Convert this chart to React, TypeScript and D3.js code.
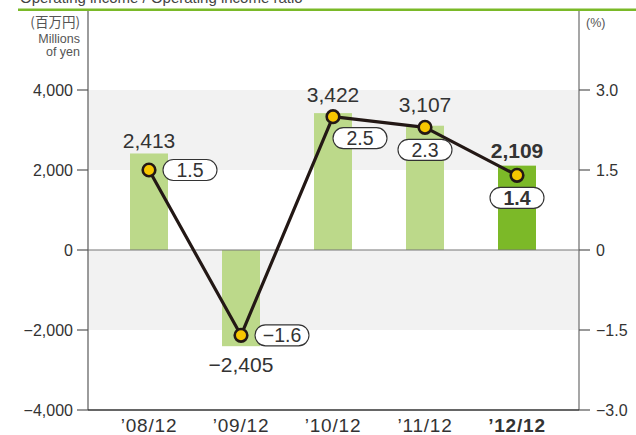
import React from "react";
import * as d3 from "d3";

const categories = ["’08/12", "’09/12", "’10/12", "’11/12", "’12/12"];
const incomeValues = [2413, -2405, 3422, 3107, 2109];
const ratioValues = [1.5, -1.6, 2.5, 2.3, 1.4];
const incomeLabels = ["2,413", "−2,405", "3,422", "3,107", "2,109"];
const ratioLabels = ["1.5", "−1.6", "2.5", "2.3", "1.4"];
const leftTicks = [-4000, -2000, 0, 2000, 4000];
const leftTickLabels = ["−4,000", "−2,000", "0", "2,000", "4,000"];
const rightTicks = [-3, -1.5, 0, 1.5, 3];
const rightTickLabels = ["−3.0", "−1.5", "0", "1.5", "3.0"];
// label placement: "right" | "below-right" | "below"
const ratioLabelPos = ["right", "right", "below-right", "below", "below"];

const W = 636;
const H = 435;
const left = 88;
const right = 579;
const top = 90;
const bottom = 410;
const font = "'Liberation Sans', Arial, Helvetica, sans-serif";

export default function App() {
  const x = d3.scaleBand<string>().domain(categories).range([103, 563]).padding(0);
  const y = d3.scaleLinear().domain([-4000, 4000]).range([bottom, top]);
  const yr = d3.scaleLinear().domain([-3, 3]).range([bottom, top]);
  const barW = 38;
  const cx = (c: string) => (x(c) as number) + x.bandwidth() / 2;
  const line = d3
    .line<number>()
    .x((_, i) => cx(categories[i]))
    .y((d) => yr(d));

  return (
    <svg width={W} height={H} style={{ position: "absolute", left: 0, top: 0 }}>
      <rect x={0} y={0} width={W} height={H} fill="#fff" />
      {/* title (cut off at the top, as in the reference) */}
      <text x={20} y={3} fontFamily={font} fontSize={15} fill="#444">
        Operating income / Operating income ratio
      </text>
      <line x1={18} x2={W} y1={9.7} y2={9.7} stroke="#7ab928" strokeWidth={2.6} />

      {/* shaded bands */}
      <rect x={left} y={y(4000)} width={right - left} height={y(2000) - y(4000)} fill="#f2f2f2" />
      <rect x={left} y={y(0)} width={right - left} height={y(-2000) - y(0)} fill="#f2f2f2" />

      {/* unit labels */}
      <g fontFamily={font} fontSize={12.5} fill="#555" textAnchor="end">
        <text x={80} y={27} fontFamily="'Noto Sans CJK JP', sans-serif" fontSize={13.5}>
          (百万円)
        </text>
        <text x={80} y={43}>Millions</text>
        <text x={80} y={56}>of yen</text>
      </g>
      <text x={586} y={27} fontFamily={font} fontSize={12.5} fill="#555">
        (%)
      </text>

      {/* bars */}
      {categories.map((c, i) => {
        const v = incomeValues[i];
        return (
          <rect
            key={c}
            x={cx(c) - barW / 2}
            y={Math.min(y(v), y(0))}
            width={barW}
            height={Math.abs(y(v) - y(0))}
            fill={i === categories.length - 1 ? "#7cb928" : "#bcd98a"}
          />
        );
      })}

      {/* zero line */}
      <line x1={left} x2={right} y1={y(0)} y2={y(0)} stroke="#777" strokeWidth={1.2} />

      {/* axes */}
      <line x1={left} x2={left} y1={11} y2={bottom} stroke="#666" strokeWidth={1.3} />
      <line x1={right} x2={right} y1={11} y2={bottom} stroke="#777" strokeWidth={1.3} />
      <line x1={left} x2={right} y1={bottom} y2={bottom} stroke="#333" strokeWidth={1.3} />

      {/* left ticks */}
      <g fontFamily={font} fontSize={16} fill="#333">
        {leftTicks.map((t, i) => (
          <g key={t}>
            <line x1={77} x2={left} y1={y(t)} y2={y(t)} stroke="#555" strokeWidth={1.2} />
            <text x={73} y={y(t) + 6} textAnchor="end">
              {leftTickLabels[i]}
            </text>
          </g>
        ))}
      </g>
      {/* right ticks */}
      <g fontFamily={font} fontSize={16} fill="#333">
        {rightTicks.map((t, i) => (
          <g key={t}>
            <line x1={right} x2={590} y1={yr(t)} y2={yr(t)} stroke="#555" strokeWidth={1.2} />
            <text x={596} y={yr(t) + 6} textAnchor="start">
              {rightTickLabels[i]}
            </text>
          </g>
        ))}
      </g>

      {/* x labels */}
      <g fontFamily={font} fontSize={19} fill="#333" textAnchor="middle">
        {categories.map((c, i) => (
          <text
            key={c}
            x={cx(c)}
            y={432}
            fontWeight={i === categories.length - 1 ? "bold" : "normal"}
            letterSpacing={0.8}
          >
            {c}
          </text>
        ))}
      </g>

      {/* income labels */}
      <g fontFamily={font} fontSize={21} fill="#333" textAnchor="middle">
        {categories.map((c, i) => {
          const v = incomeValues[i];
          const yy = v >= 0 ? (i === 4 ? y(v) - 8 : y(v) - 5) : y(v) + 26;
          let yLab = yy;
          if (i === 2) yLab = 102;
          if (i === 3) yLab = 112;
          return (
            <text key={c} x={cx(c)} y={yLab} fontWeight={i === 4 ? "bold" : "normal"}>
              {incomeLabels[i]}
            </text>
          );
        })}
      </g>

      {/* ratio line */}
      <path d={line(ratioValues) || ""} fill="none" stroke="#231815" strokeWidth={3.2} strokeLinejoin="round" />
      {categories.map((c, i) => (
        <circle key={c} cx={cx(c)} cy={yr(ratioValues[i])} r={6.3} fill="#f7c600" stroke="#231815" strokeWidth={2.6} />
      ))}

      {/* ratio labels */}
      {categories.map((c, i) => {
        const px = cx(c);
        const py = yr(ratioValues[i]);
        const bw = 54;
        const bh = 21;
        let bx = px + 14;
        let by = py - bh / 2;
        if (ratioLabelPos[i] === "below-right") {
          bx = px;
          by = py + 11;
        } else if (ratioLabelPos[i] === "below") {
          bx = px - bw / 2;
          by = py + 12;
        }
        return (
          <g key={c}>
            <rect x={bx} y={by} width={bw} height={bh} rx={10.5} fill="#fff" stroke="#333" strokeWidth={1.1} />
            <text
              x={bx + bw / 2}
              y={by + bh / 2 + 7}
              textAnchor="middle"
              fontFamily={font}
              fontSize={19.5}
              fill="#333"
              fontWeight={i === 4 ? "bold" : "normal"}
            >
              {ratioLabels[i]}
            </text>
          </g>
        );
      })}
    </svg>
  );
}
